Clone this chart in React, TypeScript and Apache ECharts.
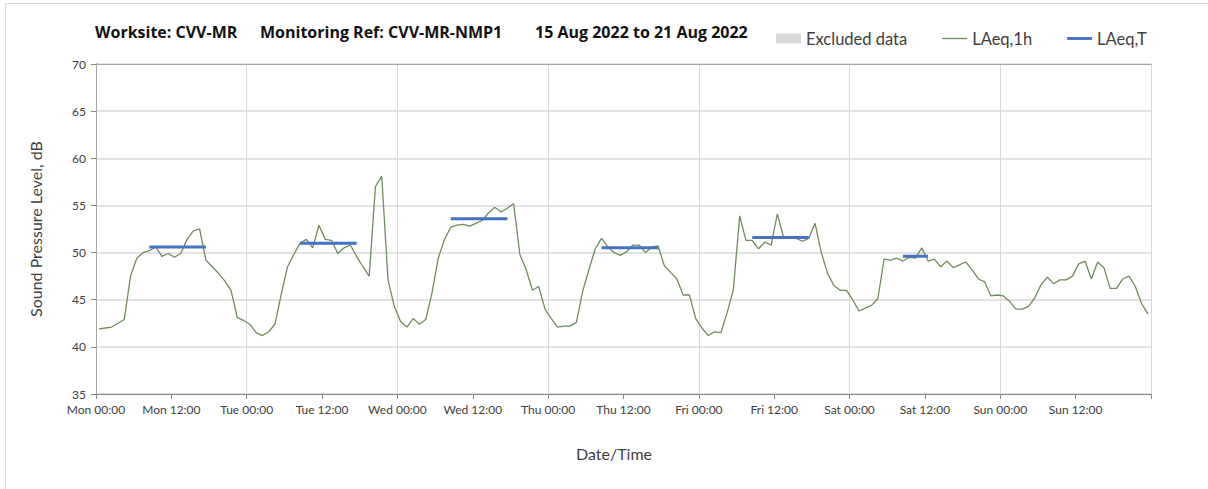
import React, { useEffect, useRef } from "react";
import * as echarts from "echarts";

const DAYS = ["Mon", "Tue", "Wed", "Thu", "Fri", "Sat", "Sun"];
const TITLE_PARTS = ["Worksite: CVV-MR", "Monitoring Ref: CVV-MR-NMP1", "15 Aug 2022 to 21 Aug 2022"];

// Hourly LAeq,1h values, Mon 00:00 .. Sun 23:00 (168 hours)
const LAEQ_1H = [
  41.9, 42.0, 42.1, 42.5, 42.9, 47.5, 49.4, 50.0, 50.2, 50.6, 49.6, 49.9,
  49.5, 49.9, 51.4, 52.3, 52.5, 49.2, 48.5, 47.8, 47.0, 46.0, 43.1, 42.8,
  42.4, 41.5, 41.2, 41.6, 42.4, 45.6, 48.5, 49.8, 51.0, 51.4, 50.5, 52.9,
  51.4, 51.3, 49.9, 50.5, 50.8, 49.6, 48.5, 47.5, 57.0, 58.1, 47.1, 44.3,
  42.7, 42.1, 43.0, 42.4, 42.9, 45.7, 49.4, 51.4, 52.7, 52.9, 53.0, 52.8,
  53.1, 53.4, 54.2, 54.8, 54.3, 54.7, 55.2, 49.8, 48.2, 46.0, 46.4, 44.0,
  43.0, 42.1, 42.2, 42.2, 42.6, 45.9, 48.2, 50.4, 51.5, 50.6, 50.0, 49.7,
  50.1, 50.8, 50.8, 50.0, 50.6, 50.7, 48.6, 47.9, 47.2, 45.5, 45.5, 43.0,
  42.0, 41.2, 41.6, 41.5, 43.6, 46.1, 53.9, 51.3, 51.3, 50.4, 51.1, 50.8,
  54.1, 51.6, 51.6, 51.5, 51.2, 51.5, 53.1, 50.0, 47.8, 46.5, 46.0, 46.0,
  45.0, 43.8, 44.1, 44.4, 45.1, 49.3, 49.2, 49.4, 49.1, 49.5, 49.4, 50.5,
  49.1, 49.3, 48.5, 49.1, 48.4, 48.7, 49.0, 48.2, 47.2, 46.9, 45.4, 45.5,
  45.4, 44.8, 44.0, 44.0, 44.3, 45.2, 46.6, 47.4, 46.7, 47.1, 47.1, 47.5,
  48.8, 49.1, 47.2, 49.0, 48.4, 46.2, 46.2, 47.2, 47.5, 46.4, 44.6, 43.5,
];

// LAeq,T per day: value, first hour and last hour (of the day) covered
const LAEQ_T_VALUES = [50.6, 51.0, 53.6, 50.5, 51.6, 49.6];
const LAEQ_T_START = [8, 8, 8, 8, 8, 8];
const LAEQ_T_END = [17, 17, 17, 17, 17, 12];

const GREEN = "#6f8c5c";
const BLUE = "#4472c4";
const GREY = "#d9d9d9";
const FONT = "Lato, 'Open Sans', sans-serif";
const TITLE_FONT = "'Open Sans', Lato, sans-serif";

export default function App() {
  const ref = useRef<HTMLDivElement>(null);

  useEffect(() => {
    if (!ref.current) return;
    const chart = echarts.init(ref.current, null, { renderer: "svg" });

    const hourly = LAEQ_1H.map((v, i) => [i + 0.5, v]);
    const tData: any[] = [];
    LAEQ_T_VALUES.forEach((v, d) => {
      for (let h = LAEQ_T_START[d]; h <= LAEQ_T_END[d]; h++) {
        tData.push([d * 24 + h + 0.5, v]);
      }
      tData.push([d * 24 + LAEQ_T_END[d] + 1, null]);
    });

    const titleStyle = {
      fontFamily: TITLE_FONT,
      fontSize: 16,
      fontWeight: "bold" as const,
      color: "#111",
    };

    chart.setOption({
      animation: false,
      textStyle: { fontFamily: FONT },
      title: [
        { text: TITLE_PARTS[0], left: 95, top: 24, padding: 0, textStyle: titleStyle },
        { text: TITLE_PARTS[1], left: 260, top: 24, padding: 0, textStyle: titleStyle },
        { text: TITLE_PARTS[2], left: 535, top: 24, padding: 0, textStyle: titleStyle },
      ],
      legend: {
        left: 771,
        top: 25,
        itemWidth: 25,
        itemHeight: 10,
        itemGap: 35,
        textStyle: { fontFamily: FONT, fontSize: 16.5, color: "#404040" },
        data: [
          { name: "Excluded data", icon: "rect" },
          { name: "LAeq,1h", icon: "path://M0,0H26V1.4H0Z" },
          { name: "LAeq,T", icon: "path://M0,0H26V3H0Z" },
        ],
      },
      grid: { left: 96, right: 57, top: 64, bottom: 95, containLabel: false },
      xAxis: [
        {
          type: "value",
          min: 0,
          max: 168,
          interval: 12,
          axisLine: { show: true, lineStyle: { color: "#868686", width: 1 } },
          axisTick: { show: true, length: 5, lineStyle: { color: "#868686" } },
          splitLine: { show: false },
          axisLabel: {
            margin: 9,
            fontSize: 12,
            color: "#404040",
            fontFamily: FONT,
            formatter: (v: number) =>
              v >= 168 ? "" : `${DAYS[Math.floor(v / 24)]} ${v % 24 === 0 ? "00:00" : "12:00"}`,
          },
          name: "Date/Time",
          nameLocation: "middle",
          nameGap: 51,
          nameTextStyle: { fontSize: 16, color: "#404040", fontFamily: FONT, padding: [0, 19, 0, 0] },
        },
        {
          type: "value",
          min: 0,
          max: 168,
          interval: 24,
          axisLine: { show: false },
          axisTick: { show: false },
          axisLabel: { show: false },
          splitLine: { show: true, lineStyle: { color: GREY, width: 1 } },
        },
        {
          type: "value",
          position: "top",
          min: 0,
          max: 168,
          axisLine: { show: true, lineStyle: { color: "#a6a6a6", width: 1 } },
          axisTick: { show: false },
          axisLabel: { show: false },
          splitLine: { show: false },
        },
      ],
      yAxis: [
        {
          type: "value",
          min: 35,
          max: 70,
          interval: 5,
          axisLine: { show: true, lineStyle: { color: "#868686", width: 1 } },
          axisTick: { show: true, length: 5, lineStyle: { color: "#868686" } },
          splitLine: { show: true, lineStyle: { color: GREY, width: 1.5 } },
          axisLabel: { margin: 10, fontSize: 12, color: "#404040", fontFamily: FONT },
          name: "Sound Pressure Level, dB",
          nameLocation: "middle",
          nameGap: 53,
          nameTextStyle: { fontSize: 16, color: "#404040", fontFamily: FONT },
        },
        {
          type: "value",
          position: "right",
          min: 35,
          max: 70,
          axisLine: { show: true, lineStyle: { color: "#a6a6a6", width: 1 } },
          axisTick: { show: false },
          axisLabel: { show: false },
          splitLine: { show: false },
        },
      ],
      series: [
        { name: "Excluded data", type: "bar", data: [], itemStyle: { color: GREY } },
        {
          name: "LAeq,1h",
          type: "line",
          data: hourly,
          showSymbol: false,
          symbol: "none",
          lineStyle: { color: GREEN, width: 1.3 },
          itemStyle: { color: GREEN },
          z: 3,
        },
        {
          name: "LAeq,T",
          type: "line",
          data: tData,
          showSymbol: false,
          symbol: "none",
          connectNulls: false,
          lineStyle: { color: BLUE, width: 3 },
          itemStyle: { color: BLUE },
          z: 4,
        },
      ],
    });

    return () => chart.dispose();
  }, []);

  return (
    <div style={{ position: "absolute", left: 0, top: 0, width: 1208, height: 489, overflow: "hidden", background: "#fff" }}>
      <div
        style={{
          position: "absolute",
          left: 5,
          top: 3,
          width: 1220,
          height: 500,
          border: "1px solid #d9d9d9",
          boxSizing: "border-box",
        }}
      />
      <div ref={ref} style={{ position: "absolute", left: 0, top: 0, width: 1208, height: 489 }} />
    </div>
  );
}
